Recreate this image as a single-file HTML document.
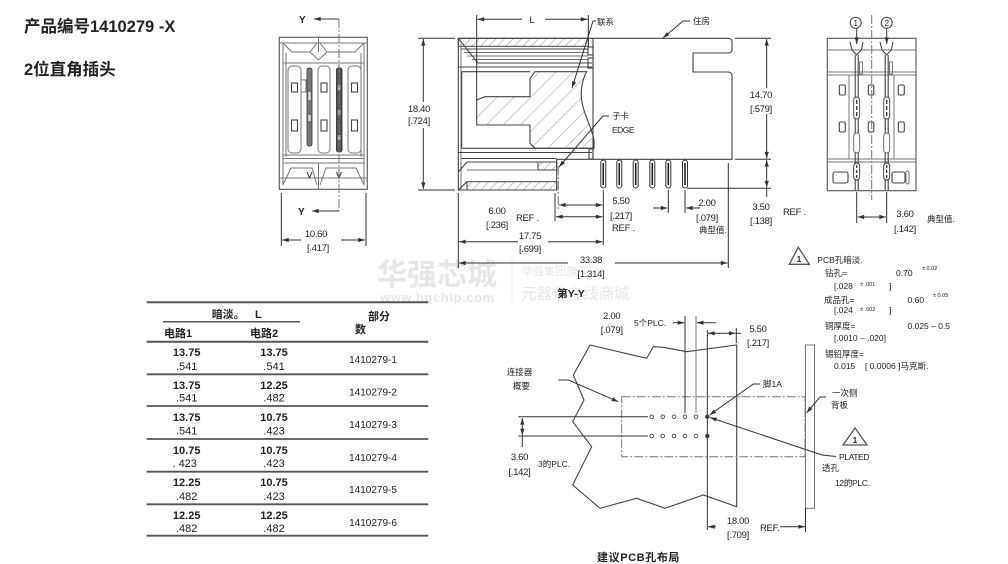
<!DOCTYPE html>
<html><head><meta charset="utf-8"><style>
html,body{margin:0;padding:0;background:#fff;}
svg{display:block;}
text{font-family:"Liberation Sans","Noto Sans CJK SC",sans-serif;fill:#222;}
.d{font-size:9.5px;letter-spacing:-0.3px;}
.c{font-size:8.5px;}
.m{text-anchor:middle;}
.b{font-weight:bold;}
.ln{stroke:#444;stroke-width:1.1;fill:none;}
.lg{stroke:#777;stroke-width:1;fill:none;}
.dm{stroke:#333;stroke-width:1;fill:none;}
.da{stroke:#333;stroke-width:1;fill:none;marker-end:url(#ar);}
.db{stroke:#333;stroke-width:1;fill:none;marker-end:url(#ar);marker-start:url(#ar);}
.dd{stroke:#777;stroke-width:1;fill:none;stroke-dasharray:9,2,2,2;}
</style></head><body>
<svg width="1008" height="564" viewBox="0 0 1008 564" xmlns="http://www.w3.org/2000/svg">
<defs>
<marker id="ar" viewBox="0 0 8 6" refX="8" refY="3" markerWidth="7" markerHeight="5" orient="auto-start-reverse" markerUnits="userSpaceOnUse"><path d="M0,0.5 L8,3 L0,5.5z" fill="#333"/></marker>
<pattern id="h" patternUnits="userSpaceOnUse" width="12" height="12" patternTransform="rotate(45)"><line x1="0" y1="0" x2="0" y2="12" stroke="#888" stroke-width="0.9"/></pattern>
<pattern id="h2" patternUnits="userSpaceOnUse" width="6" height="6" patternTransform="rotate(45)"><line x1="0" y1="0" x2="0" y2="6" stroke="#888" stroke-width="0.9"/></pattern>
</defs>

<!-- watermark -->
<text x="377" y="285" style="font-size:30px;font-weight:bold;fill:#e6e6e6;">华强芯城</text>
<text x="380" y="302" style="font-size:13px;font-weight:bold;fill:#e6e6e6;letter-spacing:0.6px;">www.hqchip.com</text>
<line x1="512" y1="258" x2="512" y2="302" stroke="#ececec" stroke-width="1"/>
<text x="522" y="275" style="font-size:11px;fill:#e6e6e6;">华强集团旗下</text>
<text x="521" y="299" style="font-size:15.5px;fill:#e6e6e6;">元器件在线商城</text>

<!-- titles -->
<text x="24" y="32" style="font-size:16.5px;font-weight:bold;">产品编号1410279 -X</text>
<text x="24" y="75" style="font-size:16.5px;font-weight:bold;">2位直角插头</text>

<!-- ================= LEFT VIEW ================= -->
<rect x="279.3" y="37.3" width="88" height="152" stroke="#555" stroke-width="1.1" fill="none"/>
<line x1="283" y1="43" x2="283" y2="185" class="lg"/>
<line x1="364" y1="43" x2="364" y2="185" class="lg"/>
<line x1="279.3" y1="43" x2="367.3" y2="43" class="lg"/>
<polyline points="283,43 292,52 310,52 317,43" class="lg"/>
<polyline points="320,43 327,52 355,52 364,43" class="lg"/>
<polyline points="310,52 318.5,60 327,52" class="lg"/>
<line x1="318.5" y1="37.3" x2="318.5" y2="52" class="lg"/>
<line x1="283" y1="63" x2="364" y2="63" class="lg"/>
<line x1="286" y1="53" x2="286" y2="157" class="lg"/>
<line x1="361" y1="53" x2="361" y2="157" class="lg"/>
<rect x="288" y="66" width="13" height="87" rx="4" class="lg"/>
<rect x="318" y="66" width="12" height="87" rx="4" class="lg"/>
<rect x="348" y="66" width="13" height="87" rx="4" class="lg"/>
<rect x="291.5" y="83" width="6" height="9" class="ln"/>
<rect x="321" y="83" width="6" height="9" class="ln"/>
<rect x="351.5" y="83" width="6" height="9" class="ln"/>
<rect x="301" y="80" width="5" height="12" class="lg"/>
<rect x="291.5" y="120" width="6" height="11" class="ln"/>
<rect x="321" y="120" width="6" height="11" class="ln"/>
<rect x="351.5" y="120" width="6" height="11" class="ln"/>
<line x1="283" y1="155" x2="364" y2="155" class="lg"/>
<line x1="283" y1="158.5" x2="364" y2="158.5" class="lg"/>
<line x1="283" y1="163" x2="364" y2="163" class="lg"/>
<polyline points="283,185 291,168 312,168 317,185" class="lg"/>
<polyline points="320,185 326,168 356,168 364,185" class="lg"/>
<line x1="318.5" y1="163" x2="318.5" y2="189" class="lg"/>
<line x1="279.3" y1="178" x2="367.3" y2="178" class="lg"/>
<!-- pins -->
<rect x="307" y="68" width="5" height="78" rx="2" fill="#777" stroke="#333" stroke-width="0.8"/>
<rect x="308.3" y="92" width="2.4" height="8" fill="#ddd"/>
<rect x="308.3" y="115" width="2.4" height="6" fill="#ddd"/>
<rect x="336.5" y="68" width="5.5" height="84" rx="2" fill="#555" stroke="#222" stroke-width="0.8"/>
<rect x="337.8" y="85" width="2.6" height="5" fill="#bbb"/>
<rect x="337.8" y="110" width="2.6" height="5" fill="#bbb"/>
<rect x="337.8" y="135" width="2.6" height="5" fill="#bbb"/>
<polyline points="307,172 309.5,178 312,172" class="ln"/>
<polyline points="336.5,172 339,178 341.5,172" class="ln"/>
<line x1="339" y1="19" x2="339" y2="211" class="dd"/>
<line x1="339" y1="19" x2="314" y2="19" class="da"/>
<line x1="339" y1="211" x2="312" y2="211" class="da"/>
<text x="299" y="23" class="b" style="font-size:10px;">Y</text>
<text x="298" y="215" class="b" style="font-size:10px;">Y</text>
<line x1="281.3" y1="193" x2="281.3" y2="246" class="dm"/>
<line x1="366" y1="193" x2="366" y2="246" class="dm"/>
<line x1="301" y1="240" x2="282" y2="240" class="da"/>
<line x1="341" y1="240" x2="365" y2="240" class="da"/>
<text x="316" y="237" class="d m">10.60</text>
<text x="318" y="251" class="d m">[.417]</text>

<!-- ================= MIDDLE VIEW ================= -->
<path d="M458.3,38.3 H728 Q732,38.3 732,42 V49 Q732,53 728,53 H693 V72 H728 Q732,72 732,76 V159.3 H556.7 V190 H458.3 Z" class="ln"/>
<line x1="461" y1="44" x2="461" y2="190" class="lg"/>
<rect x="458.3" y="38.3" width="130" height="8" fill="url(#h2)" stroke="#444" stroke-width="1"/>
<line x1="461" y1="49" x2="588" y2="49" class="ln"/>
<line x1="464" y1="52.5" x2="588" y2="52.5" class="lg"/>
<line x1="467" y1="56" x2="588" y2="56" class="lg"/>
<line x1="472" y1="59.5" x2="588" y2="59.5" class="lg"/>
<line x1="458.3" y1="38.3" x2="478" y2="63" class="ln"/>
<line x1="478" y1="63" x2="592" y2="63" class="ln"/>
<line x1="458.3" y1="67" x2="592" y2="67" class="ln"/>
<line x1="461.7" y1="71.7" x2="530" y2="71.7" class="ln"/>
<line x1="461.7" y1="71.7" x2="461.7" y2="148.3" class="ln"/>
<line x1="461.7" y1="148.3" x2="593" y2="148.3" class="ln"/>
<line x1="593" y1="38.3" x2="593" y2="159.3" class="ln"/>
<rect x="588" y="47" width="5" height="8" class="ln"/>
<rect x="588" y="58" width="5" height="10" class="ln"/>
<rect x="589" y="149" width="4" height="10" class="ln"/>
<path d="M476.7,100 L485,96.7 H530 V78.3 L535,71.7 H586.7 C582,80 580,92 582,102 C584,115 592,128 594,140 V148.3 H535 L530,143.3 V125 H476.7 Z" fill="url(#h)" stroke="#444" stroke-width="1.1"/>
<line x1="458.3" y1="152.5" x2="592" y2="152.5" class="ln"/>
<line x1="461.7" y1="158.5" x2="556.7" y2="158.5" class="ln"/>
<line x1="467" y1="162" x2="556.7" y2="162" class="ln"/>
<line x1="458.3" y1="172" x2="467" y2="162" class="ln"/>
<rect x="538" y="162" width="18.7" height="8" fill="url(#h2)" stroke="#444" stroke-width="1"/>
<line x1="467" y1="170" x2="538" y2="170" class="lg"/>
<rect x="467" y="181.7" width="89.7" height="8.3" fill="url(#h2)" stroke="#444" stroke-width="1"/>
<line x1="458.3" y1="190" x2="467" y2="181.7" class="ln"/>
<!-- pins -->
<g>
<rect x="600.8" y="160" width="5" height="28" rx="2.5" fill="#fff" stroke="#333"/><line x1="603.3" y1="163" x2="603.3" y2="185" stroke="#222" stroke-width="1.6"/>
<rect x="616.8" y="160" width="5" height="28" rx="2.5" fill="#fff" stroke="#333"/><line x1="619.3" y1="163" x2="619.3" y2="185" stroke="#222" stroke-width="1.6"/>
<rect x="633.2" y="160" width="5" height="28" rx="2.5" fill="#fff" stroke="#333"/><line x1="635.7" y1="163" x2="635.7" y2="185" stroke="#222" stroke-width="1.6"/>
<rect x="649.8" y="160" width="5" height="28" rx="2.5" fill="#fff" stroke="#333"/><line x1="652.3" y1="163" x2="652.3" y2="185" stroke="#222" stroke-width="1.6"/>
<rect x="665.8" y="160" width="5" height="28" rx="2.5" fill="#fff" stroke="#333"/><line x1="668.3" y1="163" x2="668.3" y2="185" stroke="#222" stroke-width="1.6"/>
<rect x="682.5" y="160" width="5" height="28" rx="2.5" fill="#fff" stroke="#333"/><line x1="685" y1="163" x2="685" y2="185" stroke="#222" stroke-width="1.6"/>
</g>
<!-- leaders -->
<polyline points="596,21 593,21 572,88" class="da"/>
<polyline points="690,21 683,21 663,38" class="da"/>
<polyline points="609,116 603,116 559,167" class="da"/>
<text x="597" y="25" class="c">联系</text>
<text x="693" y="24" class="c">住房</text>
<text x="612" y="119" class="c">子卡</text>
<text x="612" y="133" class="c" style="letter-spacing:-0.5px;">EDGE</text>
<!-- L dim -->
<line x1="476.7" y1="15" x2="476.7" y2="100" class="dm"/>
<line x1="588.3" y1="15" x2="588.3" y2="46" class="dm"/>
<line x1="522" y1="19.3" x2="477.5" y2="19.3" class="da"/>
<line x1="545" y1="19.3" x2="587.5" y2="19.3" class="da"/>
<text x="532" y="23" class="d m">L</text>
<!-- 18.40 -->
<line x1="418" y1="38.3" x2="455" y2="38.3" class="dm"/>
<line x1="418" y1="190" x2="455" y2="190" class="dm"/>
<line x1="423.3" y1="102" x2="423.3" y2="39" class="da"/>
<line x1="423.3" y1="128" x2="423.3" y2="189" class="da"/>
<text x="419" y="112" class="d m">18.40</text>
<text x="419" y="124" class="d m">[.724]</text>
<!-- 14.70 -->
<line x1="735" y1="38.3" x2="771" y2="38.3" class="dm"/>
<line x1="735" y1="159.3" x2="771" y2="159.3" class="dm"/>
<line x1="766.7" y1="88" x2="766.7" y2="39" class="da"/>
<line x1="766.7" y1="114" x2="766.7" y2="158.5" class="da"/>
<text x="761" y="98" class="d m">14.70</text>
<text x="761" y="112" class="d m">[.579]</text>
<!-- 3.50 -->
<line x1="687" y1="188.3" x2="771" y2="188.3" class="dm"/>
<line x1="766.7" y1="160" x2="766.7" y2="187.5" class="db"/>
<line x1="766.7" y1="188" x2="766.7" y2="197" class="dm"/>
<text x="761" y="210" class="d m">3.50</text>
<text x="761" y="224" class="d m">[.138]</text>
<text x="783" y="215" class="d">REF .</text>
<!-- ext lines -->
<line x1="458.3" y1="193" x2="458.3" y2="268" class="dm"/>
<line x1="555" y1="193" x2="555" y2="221" class="dm"/>
<line x1="558.3" y1="166" x2="558.3" y2="210" class="dd"/>
<line x1="603.3" y1="190" x2="603.3" y2="245" class="dm"/>
<line x1="668.3" y1="190" x2="668.3" y2="213" class="dm"/>
<line x1="685" y1="190" x2="685" y2="213" class="dm"/>
<line x1="728.3" y1="163" x2="728.3" y2="268" class="dm"/>
<!-- 5.50 / 6.00 -->
<line x1="559" y1="205" x2="602.5" y2="205" class="db"/>
<line x1="556" y1="216.7" x2="602.5" y2="216.7" class="db"/>
<text x="621" y="204" class="d m">5.50</text>
<text x="621" y="219" class="d m">[.217]</text>
<text x="612" y="231" class="d">REF .</text>
<text x="497" y="214" class="d m">6.00</text>
<text x="497" y="228" class="d m">[.236]</text>
<text x="516" y="221" class="d">REF .</text>
<!-- 2.00 -->
<line x1="653" y1="208" x2="667.5" y2="208" class="da"/>
<line x1="700" y1="208" x2="686" y2="208" class="da"/>
<text x="707" y="206" class="d m">2.00</text>
<text x="707" y="221" class="d m">[.079]</text>
<text x="699" y="233" class="c">典型值.</text>
<!-- 17.75 -->
<line x1="518" y1="241.7" x2="459" y2="241.7" class="da"/>
<line x1="548" y1="241.7" x2="602.5" y2="241.7" class="da"/>
<text x="530" y="239" class="d m">17.75</text>
<text x="530" y="252" class="d m">[.699]</text>
<!-- 33.38 -->
<line x1="568" y1="263" x2="459" y2="263" class="da"/>
<line x1="615" y1="263" x2="727.5" y2="263" class="da"/>
<text x="591" y="263" class="d m">33.38</text>
<text x="591" y="277" class="d m">[1.314]</text>
<text x="571" y="297" class="m b" style="font-size:10.5px;">第Y-Y</text>

<!-- ================= RIGHT VIEW ================= -->
<rect x="827.3" y="38.3" width="88.7" height="152.4" stroke="#555" stroke-width="1.1" fill="none"/>
<line x1="827.3" y1="50" x2="916" y2="50" class="lg"/>
<line x1="827.3" y1="72" x2="916" y2="72" class="lg"/>
<line x1="827.3" y1="75" x2="916" y2="75" class="lg"/>
<line x1="849" y1="75" x2="849" y2="159" class="lg"/>
<line x1="894" y1="75" x2="894" y2="159" class="lg"/>
<line x1="827.3" y1="159" x2="916" y2="159" class="lg"/>
<line x1="827.3" y1="162" x2="916" y2="162" class="lg"/>
<rect x="839.3" y="85" width="6" height="10" rx="1.5" class="ln"/>
<rect x="868.3" y="85" width="5.5" height="10" rx="1.5" class="ln"/>
<rect x="898.3" y="85" width="6" height="10" rx="1.5" class="ln"/>
<rect x="839.3" y="122" width="6" height="10" rx="1.5" class="ln"/>
<rect x="868.3" y="122" width="5.5" height="10" rx="1.5" class="ln"/>
<rect x="898.3" y="122" width="6" height="10" rx="1.5" class="ln"/>
<rect x="833" y="172" width="15" height="11" rx="2" class="ln"/>
<rect x="892" y="172" width="13" height="11" rx="2" class="ln"/>
<rect x="906" y="171" width="3" height="13" rx="1.5" class="lg"/>
<line x1="871.7" y1="15" x2="871.7" y2="200" class="dd"/>
<g>
<polyline points="850,42 852,50 856.7,55 861.3,50 863,42" class="ln"/>
<line x1="855.2" y1="55" x2="855.2" y2="190" class="ln"/>
<line x1="858.2" y1="55" x2="858.2" y2="190" class="ln"/>
<rect x="853.7" y="97" width="6" height="22" rx="3" fill="#fff" stroke="#444" stroke-width="0.9"/>
<line x1="856.7" y1="100" x2="856.7" y2="116" stroke="#333" stroke-width="1.3" stroke-dasharray="4,2"/>
<rect x="853.7" y="133" width="6" height="20" rx="3" fill="#fff" stroke="#666" stroke-width="0.9"/>
<rect x="853.7" y="163" width="6" height="17" rx="3" fill="#fff" stroke="#333" stroke-width="0.9"/>
<line x1="856.7" y1="165" x2="856.7" y2="178" stroke="#333" stroke-width="1.3" stroke-dasharray="3,2"/>
<rect x="859.5" y="62" width="3" height="12" class="lg"/>
<line x1="856.7" y1="28.5" x2="856.7" y2="44" class="da"/>
<polyline points="880,42 882,50 886.7,55 891.3,50 893,42" class="ln"/>
<line x1="885.2" y1="55" x2="885.2" y2="190" class="ln"/>
<line x1="888.2" y1="55" x2="888.2" y2="190" class="ln"/>
<rect x="883.7" y="97" width="6" height="22" rx="3" fill="#fff" stroke="#444" stroke-width="0.9"/>
<line x1="886.7" y1="100" x2="886.7" y2="116" stroke="#333" stroke-width="1.3" stroke-dasharray="4,2"/>
<rect x="883.7" y="133" width="6" height="20" rx="3" fill="#fff" stroke="#666" stroke-width="0.9"/>
<rect x="883.7" y="163" width="6" height="17" rx="3" fill="#fff" stroke="#333" stroke-width="0.9"/>
<line x1="886.7" y1="165" x2="886.7" y2="178" stroke="#333" stroke-width="1.3" stroke-dasharray="3,2"/>
<rect x="889.5" y="62" width="3" height="12" class="lg"/>
<line x1="886.7" y1="28.5" x2="886.7" y2="44" class="da"/>
</g>
<circle cx="855.7" cy="22.7" r="5.5" fill="#fff" stroke="#444"/>
<circle cx="886.7" cy="22.7" r="5.5" fill="#fff" stroke="#444"/>
<text x="855.7" y="26" class="m" style="font-size:8.5px;">1</text>
<text x="886.7" y="26" class="m" style="font-size:8.5px;">2</text>
<line x1="856.7" y1="192" x2="856.7" y2="223" class="dm"/>
<line x1="886.7" y1="192" x2="886.7" y2="223" class="dm"/>
<line x1="857.5" y1="217" x2="886" y2="217" class="db"/>
<text x="905" y="217" class="d m">3.60</text>
<text x="905" y="232" class="d m">[.142]</text>
<text x="927" y="222" class="c">典型值.</text>

<!-- ================= TABLE ================= -->
<line x1="146.7" y1="302.3" x2="428.3" y2="302.3" stroke="#555" stroke-width="2"/>
<text x="211.7" y="318" class="b" style="font-size:11px;">暗淡。</text>
<text x="255" y="318" class="b" style="font-size:11px;">L</text>
<line x1="163" y1="321.7" x2="300" y2="321.7" stroke="#555" stroke-width="1.5"/>
<text x="368" y="320" class="b" style="font-size:11px;">部分</text>
<text x="355" y="333" class="b" style="font-size:11px;">数</text>
<text x="164" y="337" class="b" style="font-size:11px;">电路1</text>
<text x="250" y="337" class="b" style="font-size:11px;">电路2</text>
<line x1="146.7" y1="341.7" x2="428.3" y2="341.7" stroke="#555" stroke-width="2"/>
<g style="font-size:11px;">
<text x="186.7" y="356" class="m b">13.75</text><text x="186.7" y="370" class="m">.541</text>
<text x="274" y="356" class="m b">13.75</text><text x="274" y="370" class="m">.541</text>
<text x="373" y="363" class="m" style="font-size:10px;">1410279-1</text>
<line x1="146.7" y1="374.3" x2="428.3" y2="374.3" stroke="#555" stroke-width="1.8"/>
<text x="186.7" y="389" class="m b">13.75</text><text x="186.7" y="401.5" class="m">.541</text>
<text x="274" y="389" class="m b">12.25</text><text x="274" y="401.5" class="m">.482</text>
<text x="373" y="395.5" class="m" style="font-size:10px;">1410279-2</text>
<line x1="146.7" y1="406" x2="428.3" y2="406" stroke="#555" stroke-width="1.8"/>
<text x="186.7" y="421" class="m b">13.75</text><text x="186.7" y="434.5" class="m">.541</text>
<text x="274" y="421" class="m b">10.75</text><text x="274" y="434.5" class="m">.423</text>
<text x="373" y="428" class="m" style="font-size:10px;">1410279-3</text>
<line x1="146.7" y1="439" x2="428.3" y2="439" stroke="#555" stroke-width="1.8"/>
<text x="186.7" y="454" class="m b">10.75</text><text x="184.7" y="467" class="m">. 423</text>
<text x="274" y="454" class="m b">10.75</text><text x="274" y="467" class="m">.423</text>
<text x="373" y="461" class="m" style="font-size:10px;">1410279-4</text>
<line x1="146.7" y1="471.7" x2="428.3" y2="471.7" stroke="#555" stroke-width="1.8"/>
<text x="186.7" y="486" class="m b">12.25</text><text x="186.7" y="500" class="m">.482</text>
<text x="274" y="486" class="m b">10.75</text><text x="274" y="500" class="m">.423</text>
<text x="373" y="493" class="m" style="font-size:10px;">1410279-5</text>
<line x1="146.7" y1="504.3" x2="428.3" y2="504.3" stroke="#555" stroke-width="1.8"/>
<text x="186.7" y="519" class="m b">12.25</text><text x="186.7" y="532" class="m">.482</text>
<text x="274" y="519" class="m b">12.25</text><text x="274" y="532" class="m">.482</text>
<text x="373" y="526" class="m" style="font-size:10px;">1410279-6</text>
<line x1="146.7" y1="535.7" x2="428.3" y2="535.7" stroke="#555" stroke-width="1.8"/>
</g>

<!-- ================= PCB LAYOUT ================= -->
<polyline points="590,345 646.7,358.3 653.3,346.7 663.3,347.3 686.7,351.7 736.7,345 736.7,506.7 703.3,495 665,508.3 636.7,498.3 600,508.3 572.7,485 591.7,446.7 572.7,421.7 584,400 573.3,375 590,345" class="ln"/>
<rect x="621.7" y="396.7" width="183.3" height="60" class="dd" stroke="#999"/>
<rect x="805.5" y="345" width="9" height="163.3" fill="#fff" stroke="#777" stroke-width="1"/>
<line x1="685" y1="316" x2="685" y2="413" class="dm"/>
<line x1="696" y1="316" x2="696" y2="413" class="lg"/>
<line x1="707.3" y1="330" x2="707.3" y2="530" class="dm"/>
<line x1="673" y1="322.7" x2="684.3" y2="322.7" class="da"/>
<line x1="716" y1="322.7" x2="696.8" y2="322.7" class="da"/>
<line x1="736.3" y1="328" x2="736.3" y2="343" class="dm"/>
<line x1="708" y1="333.3" x2="735.6" y2="333.3" class="db"/>
<line x1="736.3" y1="333.3" x2="741" y2="333.3" class="dm"/>
<text x="611.7" y="319" class="d m">2.00</text>
<text x="611.7" y="333" class="d m">[.079]</text>
<text x="634" y="326" class="c">5个PLC.</text>
<text x="758" y="332" class="d m">5.50</text>
<text x="758" y="346" class="d m">[.217]</text>
<!-- holes -->
<g fill="#fff" stroke="#444" stroke-width="0.9">
<circle cx="651.7" cy="416.7" r="1.8"/><circle cx="662.7" cy="416.7" r="1.8"/><circle cx="674" cy="416.7" r="1.8"/><circle cx="685" cy="416.7" r="1.8"/><circle cx="696" cy="416.7" r="1.8"/><circle cx="707.3" cy="416.7" r="1.8" fill="#333"/>
<circle cx="651.7" cy="436" r="1.8"/><circle cx="662.7" cy="436" r="1.8"/><circle cx="674" cy="436" r="1.8"/><circle cx="685" cy="436" r="1.8"/><circle cx="696" cy="436" r="1.8"/><circle cx="707.3" cy="436" r="1.8" fill="#333"/>
</g>
<line x1="518.3" y1="416.7" x2="648" y2="416.7" class="dm"/>
<line x1="518.3" y1="436" x2="648" y2="436" class="dm"/>
<line x1="522.3" y1="418" x2="522.3" y2="435.3" class="db"/>
<line x1="522.3" y1="436" x2="522.3" y2="447" class="dm"/>
<text x="519.5" y="460" class="d m">3.60</text>
<text x="519.5" y="475" class="d m">[.142]</text>
<text x="538" y="467" class="c">3的PLC.</text>
<text x="506.7" y="375" class="c">连接器</text>
<text x="513" y="389" class="c">概要</text>
<polyline points="558.3,380 568.3,380 618.3,401.7" class="da"/>
<text x="763" y="387" class="c">脚1A</text>
<polyline points="760,384 753.3,384 709.5,415" class="da"/>
<polyline points="836,456.5 822,455 710,417.5" class="da"/>
<text x="832" y="396" class="c">一次侧</text>
<text x="831" y="408" class="c">背板</text>
<polyline points="826,397 820,397 806.5,413" class="da"/>
<polygon points="855,428 843,445 867,445" fill="#fff" stroke="#555" stroke-width="1.3"/>
<text x="855" y="443" class="m b" style="font-size:8px;">1</text>
<text x="839" y="460" class="c" style="letter-spacing:-0.4px;">PLATED</text>
<text x="822" y="471" class="c">透孔</text>
<text x="835" y="486" class="c" style="letter-spacing:-0.3px;">12的PLC.</text>
<line x1="805.5" y1="508" x2="805.5" y2="532" class="dm"/>
<line x1="716" y1="526.7" x2="708" y2="526.7" class="da"/>
<line x1="780" y1="526.7" x2="805" y2="526.7" class="da"/>
<text x="738" y="524" class="d m">18.00</text>
<text x="738" y="538" class="d m">[.709]</text>
<text x="760" y="531" class="d">REF.</text>
<text x="597" y="561" class="b" style="font-size:11px;letter-spacing:0.6px;">建议PCB孔布局</text>

<!-- ================= NOTES ================= -->
<polygon points="798.3,247.3 789.3,264.3 809.3,264.3" fill="#fff" stroke="#555" stroke-width="1.3"/>
<text x="799" y="262" class="m b" style="font-size:8px;">1</text>
<text x="817.3" y="263" class="c">PCB孔暗淡.</text>
<text x="825" y="276" class="c">钻孔=</text>
<text x="896" y="276" class="c">0.70</text>
<text x="922" y="270" style="font-size:5.5px;">±  0.02</text>
<text x="834" y="289" class="c">[.028</text>
<text x="860" y="286" style="font-size:5.5px;">±  .001</text>
<text x="889" y="289" class="c">]</text>
<text x="824" y="303" class="c">成品孔=</text>
<text x="907.5" y="303" class="c">0.60</text>
<text x="933" y="297" style="font-size:5.5px;">±  0.05</text>
<text x="834" y="313" class="c">[.024</text>
<text x="860" y="311" style="font-size:5.5px;">±  .002</text>
<text x="889" y="313" class="c">]</text>
<text x="825" y="329" class="c">铜厚度=</text>
<text x="907.5" y="329" class="c">0.025 – 0.5</text>
<text x="834" y="341" class="c">[.0010 – .020]</text>
<text x="825" y="357" class="c">锡铅厚度=</text>
<text x="834" y="369" class="c">0.015</text>
<text x="865" y="369" class="c">[ 0.0006 ]马克斯.</text>
</svg>
</body></html>
